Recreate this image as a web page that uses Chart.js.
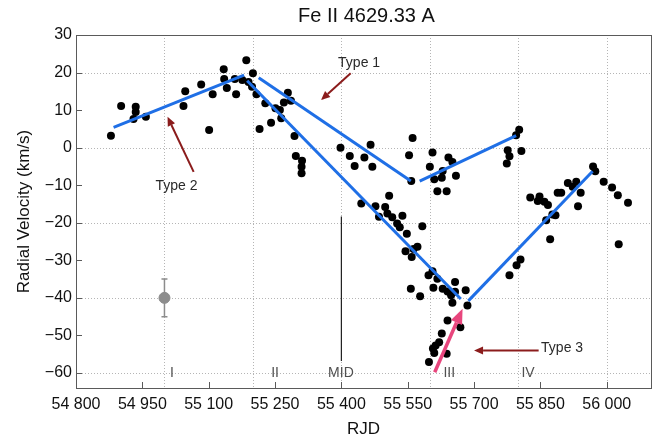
<!DOCTYPE html>
<html>
<head>
<meta charset="utf-8">
<script src="https://cdn.jsdelivr.net/npm/chart.js@4.4.1/dist/chart.umd.min.js"></script>
<style>
  html, body { margin: 0; padding: 0; background: #fff; }
  #wrap { width: 664px; height: 441px; }
</style>
</head>
<body>
<div id="wrap"><canvas id="c" width="664" height="441"></canvas></div>
<script>
// Fe II 4629.33 A radial velocities versus reduced Julian date
const rjd = [
  54879, 54902, 54935, 54935, 54930, 54958, 55043, 55047, 55083, 55101,
  55109, 55134, 55135, 55141, 55159, 55162, 55176, 55185, 55200, 55190,
  55198, 55208, 55215, 55228, 55241, 55251, 55261, 55264, 55270, 55279,
  55286, 55294, 55297, 55311, 55310, 55310,
  55398, 55419, 55430, 55452, 55466, 55470,
  55445, 55477, 55508, 55499, 55485, 55504, 55515, 55538, 55526, 55532,
  55548, 55583, 55572, 55545, 55559, 55563, 55557, 55578, 55606, 55597,
  55617, 55608, 55629, 55640, 55657, 55648, 55657, 55681, 55651, 55685,
  55640, 55627, 55669, 55621, 55613, 55607, 55610, 55638, 55598,
  55561, 55553, 55558, 55606, 55600, 55610, 55617, 55629, 55627, 55638,
  55642, 55651, 55659, 55776, 55780, 55774, 55795, 55802, 55807,
  55780, 55796, 55805, 55827, 55844, 55848, 55859, 55867, 55877, 55884,
  55863, 55872, 55889, 55897, 55912, 55923, 55931, 55941, 55935, 55969,
  55974, 55993, 56012, 56025, 56048, 56027
];
const rv = [
  3.2, 11.1, 10.9, 9.5, 7.6, 8.2, 11.1, 15.0, 16.8, 4.7,
  14.2, 20.9, 18.3, 15.9, 18.3, 14.2, 18.0, 23.3, 19.8, 17.5,
  16.2, 14.2, 5.0, 11.8, 6.6, 10.5, 10.0, 7.8, 12.0, 14.6,
  12.5, 3.1, -2.2, -3.5, -5.1, -6.8,
  0.0, -2.2, -4.9, -2.6, 0.8, -5.1,
  -14.9, -15.6, -12.8, -15.8, -18.4, -17.5, -18.5, -18.1, -20.2, -21.2,
  -22.9, -20.9, -26.4, -27.6, -29.1, -27.0, -37.6, -39.6, -32.9, -34.0,
  -34.9, -37.3, -37.6, -38.3, -35.8, -39.3, -38.4, -38.0, -41.3, -42.0,
  -46.0, -49.5, -47.8, -51.8, -52.7, -53.5, -54.7, -54.9, -57.1,
  2.6, -2.0, -8.9, -1.3, -5.1, -8.4, -11.6, -6.2, -8.0, -11.6,
  -2.6, -3.8, -7.5, -0.7, -2.3, -4.2, 3.3, 4.8, -0.9,
  -34.0, -31.3, -29.8, -13.3, -14.2, -13.0, -14.4, -15.3, -17.8, -18.0,
  -19.3, -24.4, -12.0, -12.0, -9.4, -10.4, -9.1, -12.0, -15.6, -5.0,
  -6.3, -9.1, -10.6, -12.7, -14.7, -25.7
];

// Trend segments (start / end RJD and velocity)
const trendX = [[54885, 55180], [55213, 55557], [55577, 55795], [55187, 55670], [55687, 55968]];
const trendY = [[5.4, 19.3], [18.6, -8.9], [-8.9, 3.2], [17.8, -40.3], [-40.8, -6.3]];

// Typical uncertainty marker
const errX = [55000];
const errY = [-40];
const errLow = [-45];
const errHigh = [-35];

// Mid-point marker line
const midX = [55400, 55400];
const midY = [-18.3, -56.8];

// Arrows: tail and head positions
const arrowTailX = [55421, 55066, 55846];
const arrowTailY = [19.8, -6.45, -54.0];
const arrowHeadX = [55354, 55007, 55700];
const arrowHeadY = [12.7, 8.2, -54.0];
const pinkTail = [55611, -59.8];
const pinkHead = [55674, -42.9];

// Annotation texts
const typeLabels = ['Type 1', 'Type 2', 'Type 3'];
const typeLabelX = [55440, 55027, 55899];
const typeLabelY = [22.6, -10.3, -53.5];
const phaseLabels = ['I', 'II', 'MID', 'III', 'IV'];
const phaseX = [55017, 55250, 55399, 55644, 55822];
const phaseY = [-60, -60, -60, -60, -60];

// Axis ticks and grid positions
const xTicks = [54800, 54950, 55100, 55250, 55400, 55550, 55700, 55850, 56000];
const yTicks = [30, 20, 10, 0, -10, -20, -30, -40, -50, -60];
const xGrid = [55000, 55200, 55400, 55600, 55800, 56000];
const yGrid = [20, 0, -20, -40, -60];

const FONT = "'Liberation Sans', Arial, Helvetica, sans-serif";
const fmtX = v => { const s = String(v); return s.slice(0, 2) + ' ' + s.slice(2); };
const fmtY = v => (v < 0 ? '\u2212' + Math.abs(v) : String(v));

const trendSets = trendX.map((xs, i) => ({
  type: 'line',
  data: xs.map((x, j) => ({ x, y: trendY[i][j] })),
  borderColor: '#1f6fe6',
  borderWidth: 3,
  pointRadius: 0,
  fill: false,
  order: 1
}));

function arrow(ctx, x1, y1, x2, y2, color, width, headLen, headW) {
  const ang = Math.atan2(y2 - y1, x2 - x1);
  const bx = x2 - Math.cos(ang) * headLen;
  const by = y2 - Math.sin(ang) * headLen;
  ctx.save();
  ctx.strokeStyle = color;
  ctx.fillStyle = color;
  ctx.lineWidth = width;
  ctx.beginPath();
  ctx.moveTo(x1, y1);
  ctx.lineTo(bx, by);
  ctx.stroke();
  ctx.beginPath();
  ctx.moveTo(x2, y2);
  ctx.lineTo(bx + Math.sin(ang) * headW / 2, by - Math.cos(ang) * headW / 2);
  ctx.lineTo(bx - Math.sin(ang) * headW / 2, by + Math.cos(ang) * headW / 2);
  ctx.closePath();
  ctx.fill();
  ctx.restore();
}

const framePlugin = {
  id: 'frame',
  beforeDatasetsDraw(chart) {
    const { ctx, chartArea: a, scales: { x, y } } = chart;
    ctx.save();
    // dotted grid
    ctx.strokeStyle = '#b5b5b5';
    ctx.lineWidth = 1;
    ctx.setLineDash([1, 2]);
    xGrid.forEach(v => {
      const px = Math.round(x.getPixelForValue(v)) + 0.5;
      ctx.beginPath(); ctx.moveTo(px, a.top); ctx.lineTo(px, a.bottom); ctx.stroke();
    });
    yGrid.forEach(v => {
      const py = Math.round(y.getPixelForValue(v)) + 0.5;
      ctx.beginPath(); ctx.moveTo(a.left, py); ctx.lineTo(a.right, py); ctx.stroke();
    });
    ctx.setLineDash([]);
    // box
    ctx.strokeStyle = '#5a5a5a';
    ctx.strokeRect(Math.round(a.left) + 0.5, Math.round(a.top) + 0.5,
                   Math.round(a.right - a.left), Math.round(a.bottom - a.top));
    // inward ticks
    xTicks.forEach(v => {
      const px = Math.round(x.getPixelForValue(v)) + 0.5;
      ctx.beginPath(); ctx.moveTo(px, a.bottom); ctx.lineTo(px, a.bottom - 6); ctx.stroke();
    });
    yTicks.forEach(v => {
      const py = Math.round(y.getPixelForValue(v)) + 0.5;
      ctx.beginPath(); ctx.moveTo(a.left, py); ctx.lineTo(a.left + 6, py); ctx.stroke();
    });
    // error bar
    ctx.strokeStyle = '#8c8c8c';
    ctx.lineWidth = 1.5;
    errX.forEach((v, i) => {
      const px = x.getPixelForValue(v);
      const lo = y.getPixelForValue(errLow[i]);
      const hi = y.getPixelForValue(errHigh[i]);
      ctx.beginPath();
      ctx.moveTo(px, lo); ctx.lineTo(px, hi);
      ctx.moveTo(px - 3, lo); ctx.lineTo(px + 3, lo);
      ctx.moveTo(px - 3, hi); ctx.lineTo(px + 3, hi);
      ctx.stroke();
    });
    ctx.restore();
  },
  afterDatasetsDraw(chart) {
    const { ctx, chartArea: a, scales: { x, y } } = chart;
    // dark red arrows
    arrowTailX.forEach((v, i) => {
      arrow(ctx, x.getPixelForValue(v), y.getPixelForValue(arrowTailY[i]),
            x.getPixelForValue(arrowHeadX[i]), y.getPixelForValue(arrowHeadY[i]),
            '#8b1c1c', 2, 9, 8);
    });
    // pink arrow
    arrow(ctx, x.getPixelForValue(pinkTail[0]), y.getPixelForValue(pinkTail[1]),
          x.getPixelForValue(pinkHead[0]), y.getPixelForValue(pinkHead[1]),
          '#e8467d', 3.5, 15, 12);
    ctx.save();
    ctx.textAlign = 'center';
    ctx.textBaseline = 'middle';
    ctx.font = '14px ' + FONT;
    ctx.fillStyle = '#2a2a2a';
    typeLabels.forEach((t, i) => {
      ctx.fillText(t, x.getPixelForValue(typeLabelX[i]), y.getPixelForValue(typeLabelY[i]));
    });
    ctx.fillStyle = '#505050';
    phaseLabels.forEach((t, i) => {
      ctx.fillText(t, x.getPixelForValue(phaseX[i]), y.getPixelForValue(phaseY[i]));
    });
    // title
    ctx.font = '20px ' + FONT;
    ctx.fillStyle = '#111';
    ctx.fillText('Fe II 4629.33 A', (a.left + a.right) / 2 + 3, 16);
    ctx.restore();
  }
};

new Chart(document.getElementById('c'), {
  type: 'scatter',
  data: {
    datasets: [
      ...trendSets,
      {
        type: 'line',
        data: midX.map((v, i) => ({ x: v, y: midY[i] })),
        borderColor: '#222',
        borderWidth: 1.2,
        pointRadius: 0,
        order: 2
      },
      {
        data: errX.map((v, i) => ({ x: v, y: errY[i] })),
        backgroundColor: '#8c8c8c',
        borderColor: '#8c8c8c',
        pointRadius: 5.5,
        order: 3
      },
      {
        data: rjd.map((v, i) => ({ x: v, y: rv[i] })),
        backgroundColor: '#000',
        borderColor: '#000',
        pointRadius: 4,
        borderWidth: 0,
        order: 4
      }
    ]
  },
  options: {
    responsive: false,
    animation: false,
    devicePixelRatio: 1,
    events: [],
    layout: { padding: { top: 35, right: 13, left: 0, bottom: 0 } },
    plugins: { legend: { display: false }, tooltip: { enabled: false }, title: { display: false } },
    scales: {
      x: {
        type: 'linear',
        min: 54800,
        max: 56100,
        afterBuildTicks: a => { a.ticks = xTicks.map(v => ({ value: v })); },
        afterFit: a => { a.height = 53; },
        grid: { display: false, drawTicks: false },
        border: { display: false },
        ticks: { callback: v => fmtX(v), font: { family: FONT, size: 16 }, color: '#111',
                 padding: 7, maxRotation: 0, autoSkip: false },
        title: { display: true, text: 'RJD', font: { family: FONT, size: 17 }, color: '#111',
                 padding: { top: 0, bottom: 1 } }
      },
      y: {
        type: 'linear',
        min: -64,
        max: 30,
        afterBuildTicks: a => { a.ticks = yTicks.map(v => ({ value: v })); },
        afterFit: a => { a.width = 76; },
        grid: { display: false, drawTicks: false },
        border: { display: false },
        ticks: { callback: v => fmtY(v), font: { family: FONT, size: 16 }, color: '#111',
                 padding: 4, autoSkip: false },
        title: { display: true, text: 'Radial Velocity (km/s)', font: { family: FONT, size: 17 },
                 color: '#111', padding: { top: 14, bottom: 0 } }
      }
    }
  },
  plugins: [framePlugin]
});
</script>
</body>
</html>
